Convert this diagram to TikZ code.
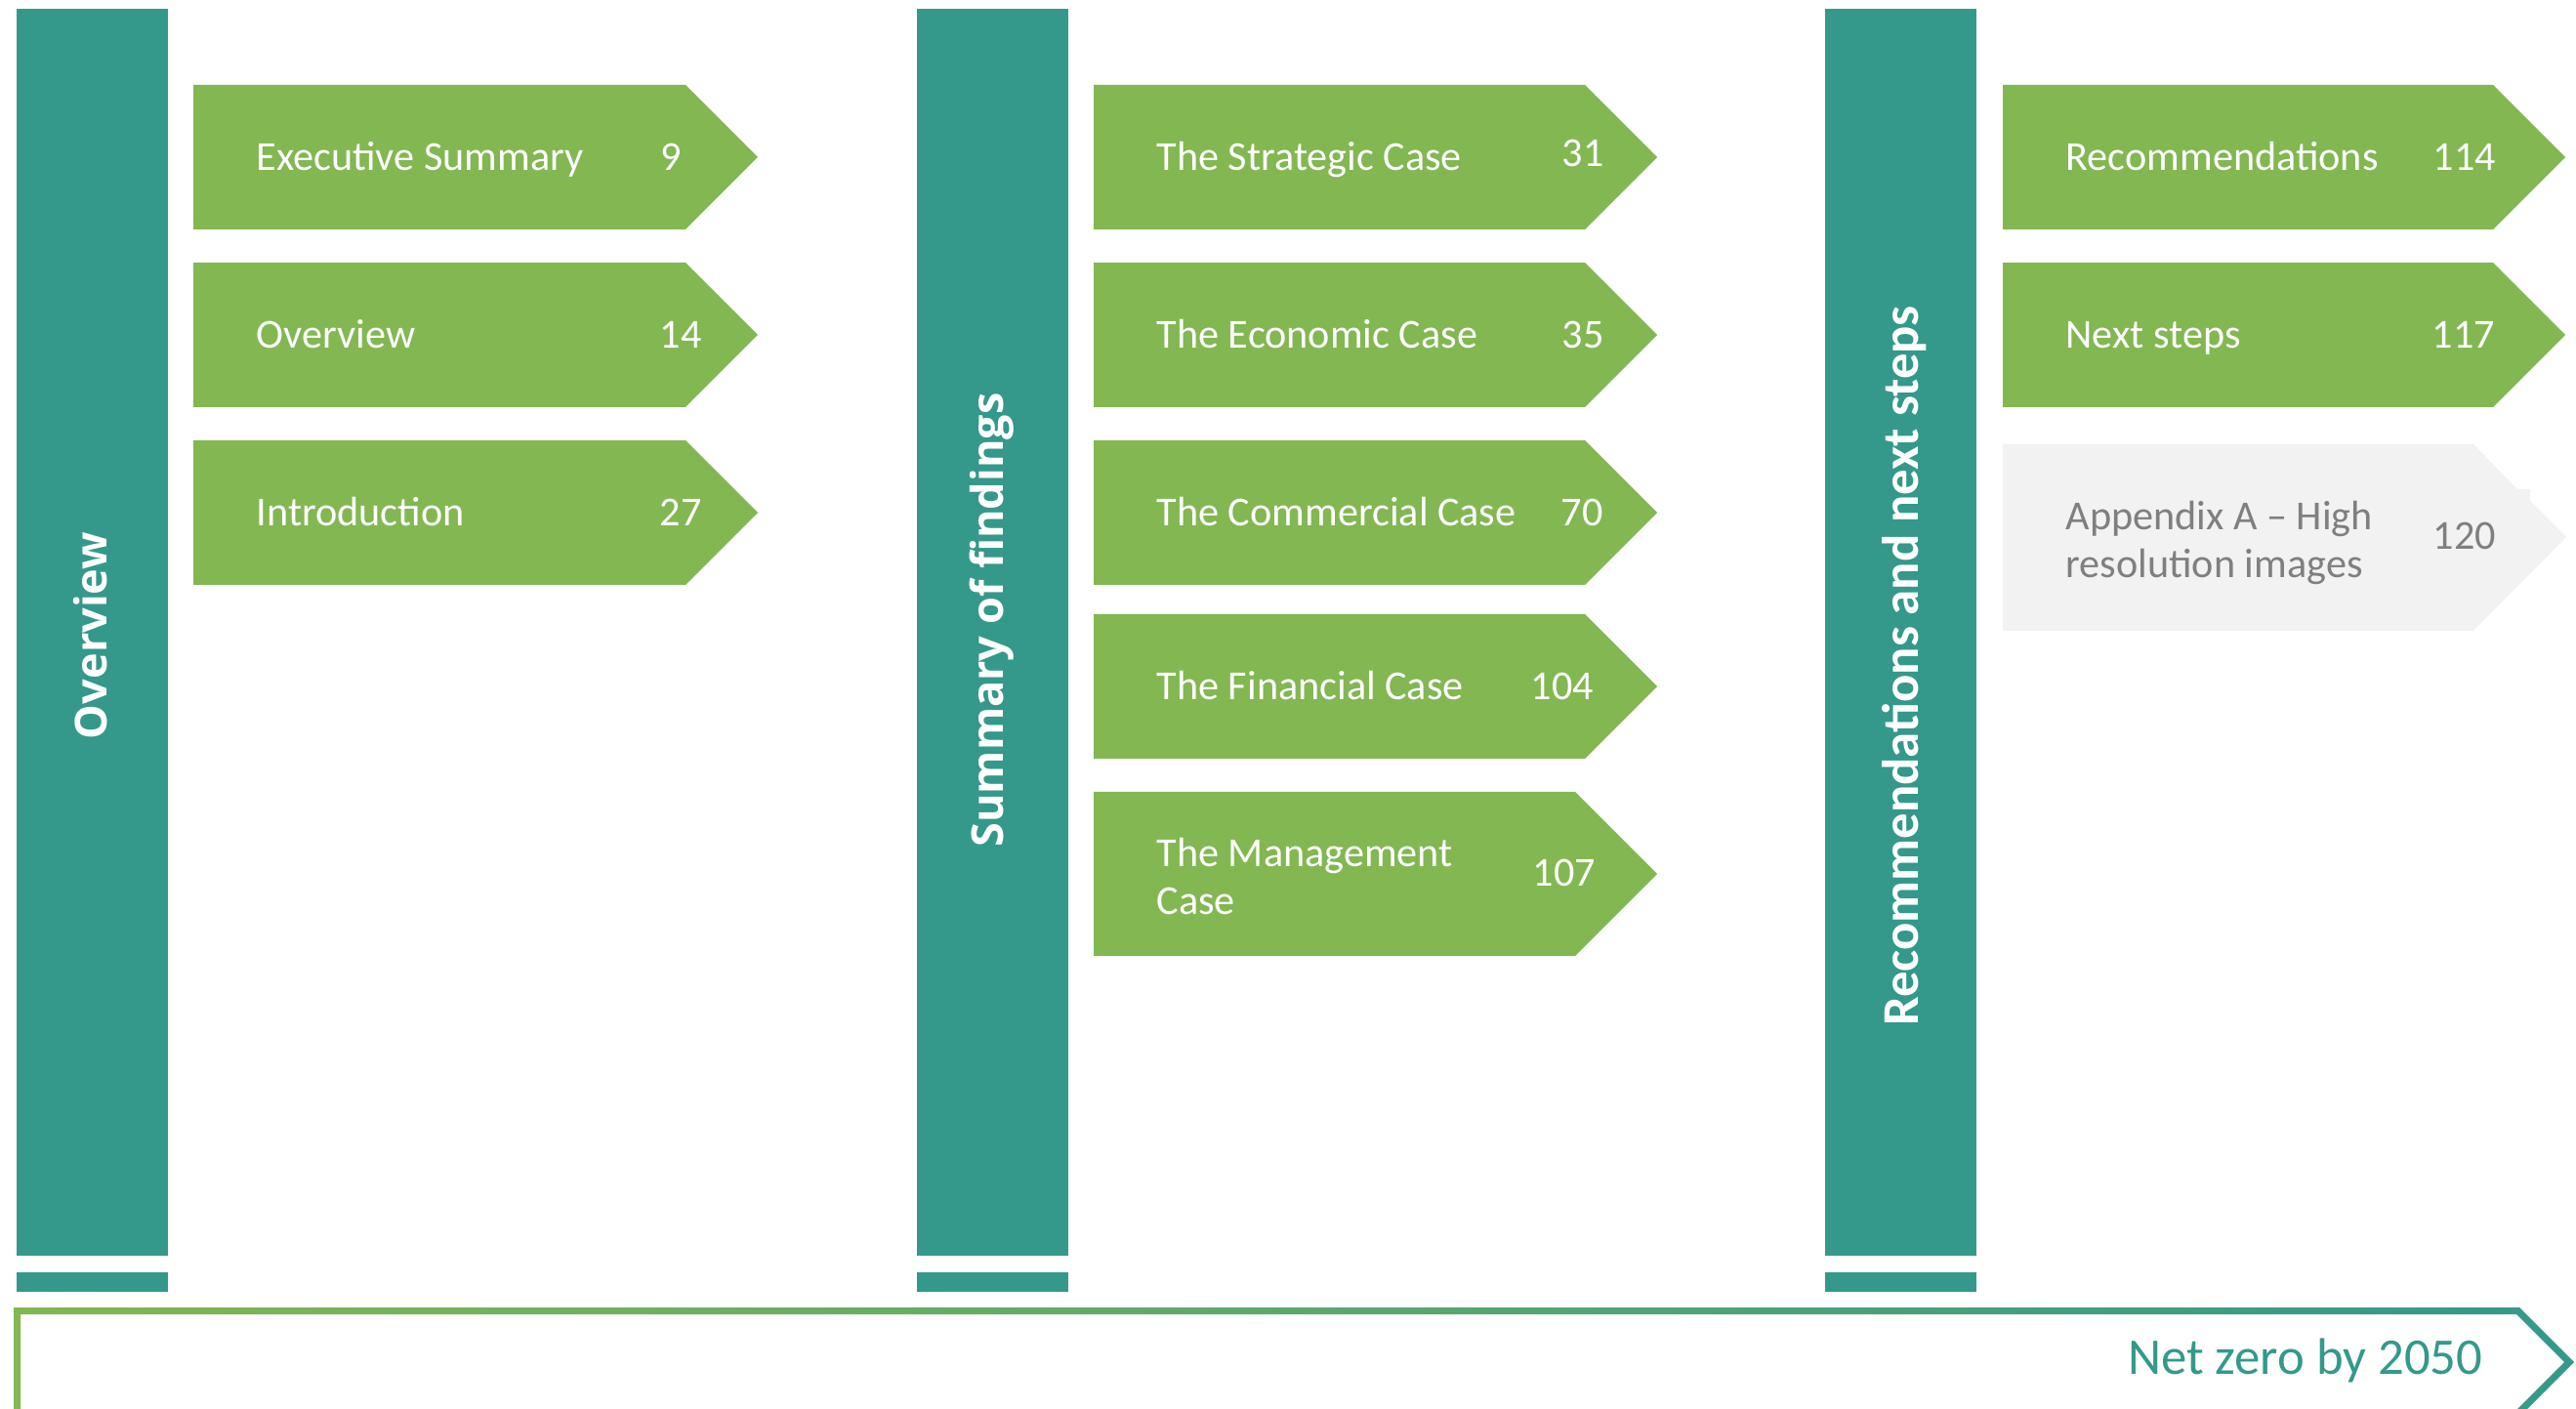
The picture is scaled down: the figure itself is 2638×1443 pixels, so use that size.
\documentclass[tikz,border=0pt]{standalone}
\usepackage{fontspec}
\setmainfont{Carlito}
\newfontfamily\opensans{Open Sans}

\definecolor{bar}{RGB}{52,153,138}
\definecolor{leaf}{RGB}{130,183,82}
\definecolor{mist}{RGB}{242,242,242}
\definecolor{ink}{RGB}{127,127,127}

% #2 left, #3 tip, #4 top, #5 bottom
\newcommand{\chevbox}[5][leaf]{%
  \fill[#1] (#2,#4) -- ({#3-(#5-#4)/2},#4) -- (#3,{(#4+#5)/2})
    -- ({#3-(#5-#4)/2},#5) -- (#2,#5) -- cycle;}

\begin{document}
\begin{tikzpicture}[x=0.01cm, y=-0.01cm,
    entry/.style={anchor=base west, inner sep=0, text=white, align=left,
      font=\fontsize{12}{14.2}\selectfont},
    head/.style={rotate=90, inner sep=0, text=white,
      font=\opensans\bfseries\fontsize{12.8}{15}\selectfont}]
  \useasboundingbox (0,0) rectangle (2638,1443);

  \fill[bar] (17,9) rectangle (172,1286);
  \fill[bar] (939,9) rectangle (1094,1286);
  \fill[bar] (1869,9) rectangle (2024,1286);
  \fill[bar] (17,1303) rectangle (172,1323);
  \fill[bar] (939,1303) rectangle (1094,1323);
  \fill[bar] (1869,1303) rectangle (2024,1323);

  \node[head] (colA) at (93,651) {Overview};
  \node[head] (colB) at (1016,635) {Summary of findings};
  \node[head, font=\bfseries\fontsize{15}{18}\selectfont] (colC) at (1950,682) {Recommendations and next steps};

  \chevbox{198}{776}{87}{235}
  \chevbox{198}{776}{269}{417}
  \chevbox{198}{776}{451}{599}
  \chevbox{1120}{1697}{87}{235}
  \chevbox{1120}{1697}{269}{417}
  \chevbox{1120}{1697}{451}{599}
  \chevbox{1120}{1697}{629}{777}
  \chevbox{1120}{1697}{811}{979}
  \chevbox{2051}{2627}{87}{235}
  \chevbox{2051}{2627}{269}{417}
  \fill[mist] (2051,455) -- (2533,455) -- (2578,501) -- (2591,501) -- (2591,513)
    -- (2628,550) -- (2533,646) -- (2051,646) -- cycle;

  \node[entry] (exec) at (262,175) {Executive Summary};
  \node[entry] (exec-n) at (676,175) {9};
  \node[entry] (over) at (262,357) {Overview};
  \node[entry] (over-n) at (675,357) {14};
  \node[entry] (intro) at (262,539) {Introduction};
  \node[entry] (intro-n) at (675,539) {27};

  \node[entry] (strat) at (1184,175) {The Strategic Case};
  \node[entry] (strat-n) at (1599,171) {31};
  \node[entry] (econ) at (1184,357) {The Economic Case};
  \node[entry] (econ-n) at (1599,357) {35};
  \node[entry] (comm) at (1184,539) {The Commercial Case};
  \node[entry] (comm-n) at (1598,539) {70};
  \node[entry] (fin) at (1184,717) {The Financial Case};
  \node[entry] (fin-n) at (1567,717) {104};
  \node[entry] (mgmt) at (1184,937) {The Management\\Case};
  \node[entry] (mgmt-n) at (1569,908) {107};

  \node[entry] (recs) at (2115,175) {Recommendations};
  \node[entry] (recs-n) at (2491,175) {114};
  \node[entry] (next) at (2115,357) {Next steps};
  \node[entry] (next-n) at (2490,357) {117};
  \node[entry, text=ink] (appx) at (2115,592) {Appendix A -- High\\resolution images};
  \node[entry, text=ink] (appx-n) at (2491,563) {120};

  \shade[left color=leaf, right color=bar, even odd rule]
    (14,1339) -- (2580,1339) -- (2636,1395) -- (2580,1451) -- (14,1451) -- cycle
    (21,1346) -- (2577,1346) -- (2626,1395) -- (2577,1444) -- (21,1444) -- cycle;
  \node[anchor=base east, inner sep=0, text=bar, font=\fontsize{15}{18}\selectfont]
    (goal) at (2543,1407) {Net zero by 2050};
\end{tikzpicture}
\end{document}
